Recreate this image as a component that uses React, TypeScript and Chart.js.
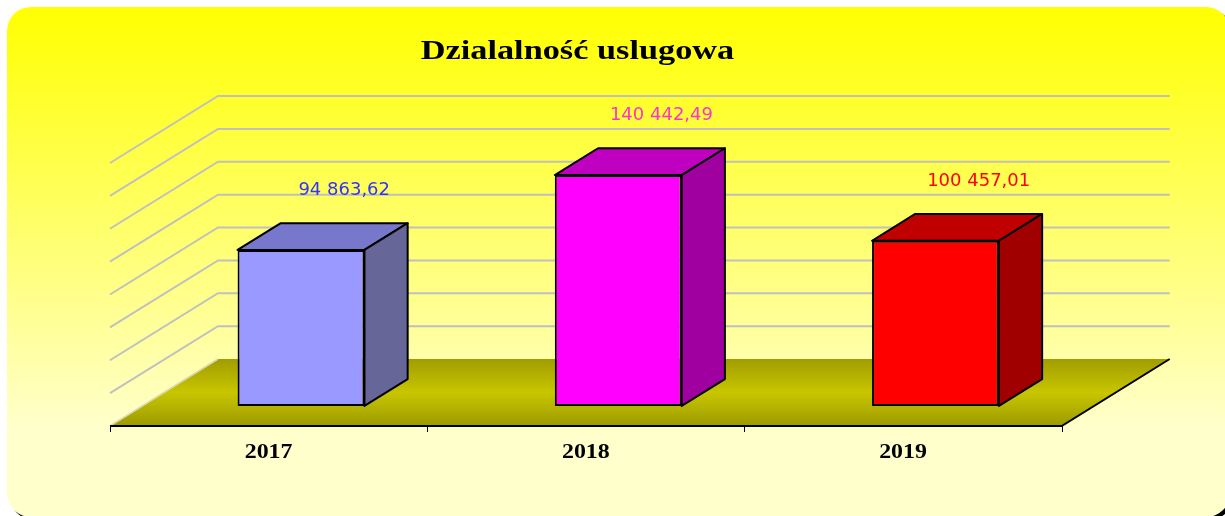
import { useEffect, useRef } from "react";
import { Chart, registerables } from "chart.js";

Chart.register(...registerables);

const titleText = "Dzialalność uslugowa";
const categories = ["2017", "2018", "2019"];
const values = [94863.62, 140442.49, 100457.01];
const frontColors = ["#9999FF", "#FF00FF", "#FF0000"];
const topColors = ["#7777CC", "#C000C0", "#C00000"];
const sideColors = ["#666699", "#A000A0", "#A00000"];
const labelColors = ["#3333FF", "#FF33CC", "#FF0000"];
const yMax = 160000;
const yStep = 20000;

// 3D geometry (pixels / fractions)
const DEPTH_X = 108;
const DEPTH_Y = -67;
const FRONT_GAP = 0.3;
const BAR_DEPTH = 0.4;

function formatPl(v: number): string {
  const [i, d] = v.toFixed(2).split(".");
  return i.replace(/\B(?=(\d{3})+(?!\d))/g, " ") + "," + d;
}

function roundRect(ctx: CanvasRenderingContext2D, x: number, y: number, w: number, h: number, r: number) {
  ctx.beginPath();
  ctx.moveTo(x + r, y);
  ctx.lineTo(x + w - r, y);
  ctx.arcTo(x + w, y, x + w, y + r, r);
  ctx.lineTo(x + w, y + h - r);
  ctx.arcTo(x + w, y + h, x + w - r, y + h, r);
  ctx.lineTo(x + r, y + h);
  ctx.arcTo(x, y + h, x, y + h - r, r);
  ctx.lineTo(x, y + r);
  ctx.arcTo(x, y, x + r, y, r);
  ctx.closePath();
}

const threeDPlugin = {
  id: "threeD",
  beforeDraw(chart: any) {
    const ctx: CanvasRenderingContext2D = chart.ctx;
    const W = chart.width;
    ctx.save();
    ctx.fillStyle = "#FFFFFF";
    ctx.fillRect(0, 0, W, chart.height);
    // shadow
    ctx.fillStyle = "#000000";
    roundRect(ctx, 10, 10, 1223, 510, 24);
    ctx.fill();
    // panel
    const g = ctx.createLinearGradient(0, 7, 0, 430);
    g.addColorStop(0, "#FFFF00");
    g.addColorStop(1, "#FFFFCC");
    ctx.fillStyle = g;
    roundRect(ctx, 7, 7, 1223, 510, 24);
    ctx.fill();
    ctx.restore();
  },
  beforeDatasetsDraw(chart: any) {
    const ctx: CanvasRenderingContext2D = chart.ctx;
    const area = chart.chartArea;
    const yScale = chart.scales.y;
    const xScale = chart.scales.x;
    const backDx = (1 - FRONT_GAP) * DEPTH_X;
    const backDy = (1 - FRONT_GAP) * DEPTH_Y;
    const frontDx = -FRONT_GAP * DEPTH_X;
    const frontDy = -FRONT_GAP * DEPTH_Y;
    const backLeft = area.left + backDx;
    const backRight = area.right + backDx;
    const frontLeft = area.left + frontDx;
    const frontRight = area.right + frontDx;

    ctx.save();
    // back wall + side wall gridlines
    ctx.strokeStyle = "#C0C0C0";
    ctx.lineWidth = 2;
    for (let v = yStep; v <= yMax; v += yStep) {
      const py = yScale.getPixelForValue(v);
      const yb = py + backDy;
      const yf = py + frontDy;
      ctx.beginPath();
      ctx.moveTo(frontLeft, yf);
      ctx.lineTo(backLeft, yb);
      ctx.lineTo(backRight, yb);
      ctx.stroke();
    }
    // floor
    const p0 = yScale.getPixelForValue(0);
    const fyb = p0 + backDy;
    const fyf = p0 + frontDy;
    const fg = ctx.createLinearGradient(0, fyb, 0, fyf);
    fg.addColorStop(0, "#A09D00");
    fg.addColorStop(0.5, "#C8C600");
    fg.addColorStop(1, "#9C9A00");
    ctx.fillStyle = fg;
    ctx.beginPath();
    ctx.moveTo(backLeft, fyb);
    ctx.lineTo(backRight, fyb);
    ctx.lineTo(frontRight, fyf);
    ctx.lineTo(frontLeft, fyf);
    ctx.closePath();
    ctx.fill();
    // floor left edge (light)
    ctx.strokeStyle = "#D8D8B0";
    ctx.lineWidth = 1.5;
    ctx.beginPath();
    ctx.moveTo(frontLeft, fyf);
    ctx.lineTo(backLeft, fyb);
    ctx.stroke();
    // front and right edges
    ctx.strokeStyle = "#000000";
    ctx.lineWidth = 2;
    ctx.beginPath();
    ctx.moveTo(frontLeft, fyf);
    ctx.lineTo(frontRight, fyf);
    ctx.lineTo(backRight, fyb);
    ctx.stroke();
    // ticks
    ctx.lineWidth = 1;
    const catW = (area.right - area.left) / categories.length;
    for (let k = 0; k <= categories.length; k++) {
      const tx = Math.round(frontLeft + k * catW) + 0.5;
      ctx.beginPath();
      ctx.moveTo(tx, fyf);
      ctx.lineTo(tx, fyf + 6);
      ctx.stroke();
    }
    // category labels
    ctx.fillStyle = "#000000";
    ctx.font = "bold 21px 'Liberation Serif', serif";
    ctx.textAlign = "center";
    ctx.textBaseline = "alphabetic";
    categories.forEach((c, i) => {
      const cx = xScale.getPixelForValue(i) + frontDx;
      ctx.save();
      ctx.translate(cx, fyf + 32);
      ctx.scale(1.14, 1);
      ctx.fillText(c, 0, 0);
      ctx.restore();
    });
    ctx.restore();
  },
  afterDatasetsDraw(chart: any) {
    const ctx: CanvasRenderingContext2D = chart.ctx;
    const meta = chart.getDatasetMeta(0);
    const dx = BAR_DEPTH * DEPTH_X;
    const dy = BAR_DEPTH * DEPTH_Y;
    ctx.save();
    ctx.lineWidth = 2;
    ctx.lineJoin = "round";
    ctx.strokeStyle = "#000000";
    meta.data.forEach((bar: any, i: number) => {
      const { x, y, base, width } = bar.getProps(["x", "y", "base", "width"], true);
      const x0 = x - width / 2;
      const x1 = x + width / 2;
      // top face
      ctx.fillStyle = topColors[i];
      ctx.beginPath();
      ctx.moveTo(x0, y);
      ctx.lineTo(x1, y);
      ctx.lineTo(x1 + dx, y + dy);
      ctx.lineTo(x0 + dx, y + dy);
      ctx.closePath();
      ctx.fill();
      ctx.stroke();
      // side face
      ctx.fillStyle = sideColors[i];
      ctx.beginPath();
      ctx.moveTo(x1, y);
      ctx.lineTo(x1 + dx, y + dy);
      ctx.lineTo(x1 + dx, base + dy);
      ctx.lineTo(x1, base);
      ctx.closePath();
      ctx.fill();
      ctx.stroke();
      // value label
      ctx.fillStyle = labelColors[i];
      ctx.font = "18px 'DejaVu Sans', sans-serif";
      ctx.textAlign = "center";
      ctx.textBaseline = "alphabetic";
      ctx.fillText(formatPl(values[i]), x + dx, y + dy - 28);
    });
    ctx.restore();
  },
  afterDraw(chart: any) {
    const ctx: CanvasRenderingContext2D = chart.ctx;
    ctx.save();
    ctx.fillStyle = "#000000";
    ctx.font = "bold 27px 'Liberation Serif', serif";
    ctx.textAlign = "center";
    ctx.textBaseline = "alphabetic";
    ctx.translate(577.5, 59);
    ctx.scale(1.27, 1);
    ctx.fillText(titleText, 0, 0);
    ctx.restore();
  },
};

export default function App() {
  const ref = useRef<HTMLCanvasElement | null>(null);
  useEffect(() => {
    if (!ref.current) return;
    const chart = new Chart(ref.current, {
      type: "bar",
      data: {
        labels: categories,
        datasets: [
          {
            data: values,
            backgroundColor: frontColors,
            borderColor: "#000000",
            borderWidth: 2,
            borderSkipped: false,
            barPercentage: 0.4,
            categoryPercentage: 1,
          },
        ],
      },
      options: {
        responsive: false,
        animation: false,
        devicePixelRatio: 1,
        layout: { padding: { left: 142.4, right: 130.9, top: 142.9, bottom: 110.1 } },
        scales: {
          x: { display: false, offset: true, grid: { display: false } },
          y: { display: false, min: 0, max: yMax, ticks: { stepSize: yStep } },
        },
        plugins: {
          legend: { display: false },
          title: { display: false },
          tooltip: { enabled: false },
        },
      },
      plugins: [threeDPlugin],
    } as any);
    return () => chart.destroy();
  }, []);
  return (
    <div style={{ position: "absolute", left: 0, top: 0, width: 1225, height: 516 }}>
      <canvas ref={ref} width={1225} height={516} />
    </div>
  );
}
